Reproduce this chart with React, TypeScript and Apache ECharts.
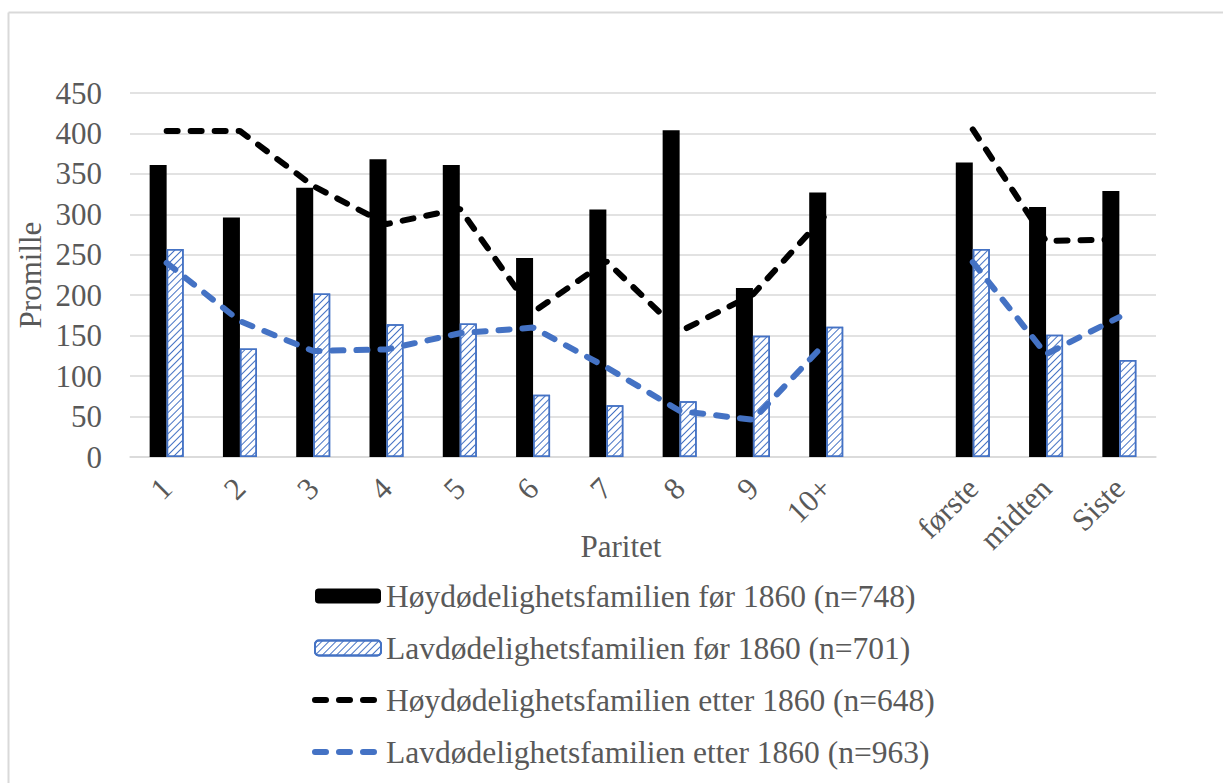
import React, { useEffect, useRef } from "react";
import * as echarts from "echarts";

const categories = ["1", "2", "3", "4", "5", "6", "7", "8", "9", "10+", "", "første", "midten", "Siste"];
const hoyFor = [361, 296, 333, 368, 361, 246, 306, 404, 209, 327, null, 364, 309, 329];
const lavFor = [257, 134, 202, 164, 165, 77, 64, 69, 150, 161, null, 257, 151, 120];
const hoyEtter = [403, 403, 335, 288, 307, 179, 242, 155, 201, 300, null, 405, 267, 269];
const lavEtter = [240, 168, 131, 133, 153, 160, 111, 57, 46, 142, null, 241, 127, 173];
const seriesNames = [
  "Høydødelighetsfamilien før 1860 (n=748)",
  "Lavdødelighetsfamilien før 1860 (n=701)",
  "Høydødelighetsfamilien etter 1860 (n=648)",
  "Lavdødelighetsfamilien etter 1860 (n=963)",
];

const FONT = "'Liberation Serif', 'Times New Roman', serif";
const TXT = "#595959";
const GRID = "#d9d9d9";
const BLUE = "#4472C4";
const DASH = [11, 13];

export default function App() {
  const ref = useRef<HTMLDivElement>(null);
  useEffect(() => {
    if (!ref.current) return;
    const chart = echarts.init(ref.current, undefined, { renderer: "svg" });
    chart.setOption({
      animation: false,
      backgroundColor: "#ffffff",
      textStyle: { fontFamily: FONT },
      grid: { left: 130, right: 67, top: 93, bottom: 326, containLabel: false },
      graphic: [
        { type: "line", shape: { x1: 8.5, y1: 12.5, x2: 1230, y2: 12.5 }, style: { stroke: GRID, lineWidth: 2 } },
        { type: "line", shape: { x1: 8.5, y1: 12.5, x2: 8.5, y2: 800 }, style: { stroke: GRID, lineWidth: 2 } },
      ],
      legend: {
        orient: "vertical",
        left: 307,
        top: 575,
        itemWidth: 66,
        itemHeight: 15,
        itemGap: 20,
        textStyle: { fontFamily: FONT, fontSize: 31.5, color: TXT, lineHeight: 30 },
        data: [
          { name: seriesNames[0] },
          { name: seriesNames[1] },
          {
            name: seriesNames[2],
            itemStyle: { opacity: 0 },
            lineStyle: { width: 6, type: DASH, cap: "round", color: "#000000" },
          },
          {
            name: seriesNames[3],
            itemStyle: { opacity: 0 },
            lineStyle: { width: 6, type: DASH, cap: "round", color: BLUE },
          },
        ],
      },
      xAxis: {
        type: "category",
        data: categories,
        boundaryGap: true,
        axisTick: { show: false },
        axisLine: { lineStyle: { color: GRID, width: 1.5 } },
        axisLabel: { rotate: 45, interval: 0, margin: 26, color: TXT, fontSize: 31, fontFamily: FONT },
        name: "Paritet",
        nameLocation: "middle",
        nameGap: 74,
        nameMoveOverlap: false,
        nameTextStyle: { fontSize: 31, color: TXT, fontFamily: FONT, padding: [0, 44, 0, 0] },
      },
      yAxis: {
        type: "value",
        min: 0,
        max: 450,
        interval: 50,
        axisLine: { show: false },
        axisTick: { show: false },
        splitLine: { lineStyle: { color: GRID, width: 1.5 } },
        axisLabel: { margin: 28, color: TXT, fontSize: 31, fontFamily: FONT },
        name: "Promille",
        nameLocation: "middle",
        nameGap: 84,
        nameMoveOverlap: false,
        nameTextStyle: { fontSize: 31, color: TXT, fontFamily: FONT },
      },
      series: [
        {
          name: seriesNames[0],
          type: "bar",
          data: hoyFor,
          barWidth: 17,
          barGap: "0%",
          itemStyle: { color: "#000000" },
        },
        {
          name: seriesNames[1],
          type: "bar",
          data: lavFor,
          barWidth: 17,
          itemStyle: {
            color: "#ffffff",
            borderColor: BLUE,
            borderWidth: 1.5,
            decal: {
              symbol: "rect",
              symbolSize: 1,
              color: BLUE,
              dashArrayX: [1, 0],
              dashArrayY: [1, 3.5],
              rotation: -Math.PI / 4,
            },
          },
        },
        {
          name: seriesNames[2],
          type: "line",
          data: hoyEtter,
          symbol: "none",
          showSymbol: false,
          connectNulls: false,
          lineStyle: { color: "#000000", width: 6, type: DASH, cap: "round" },
          itemStyle: { color: "#000000" },
        },
        {
          name: seriesNames[3],
          type: "line",
          data: lavEtter,
          symbol: "none",
          showSymbol: false,
          connectNulls: false,
          lineStyle: { color: BLUE, width: 6, type: DASH, cap: "round" },
          itemStyle: { color: BLUE },
        },
      ],
    });
    return () => chart.dispose();
  }, []);
  return (
    <div
      ref={ref}
      style={{ position: "fixed", left: 0, top: 0, width: 1223, height: 783, background: "#fff" }}
    />
  );
}
